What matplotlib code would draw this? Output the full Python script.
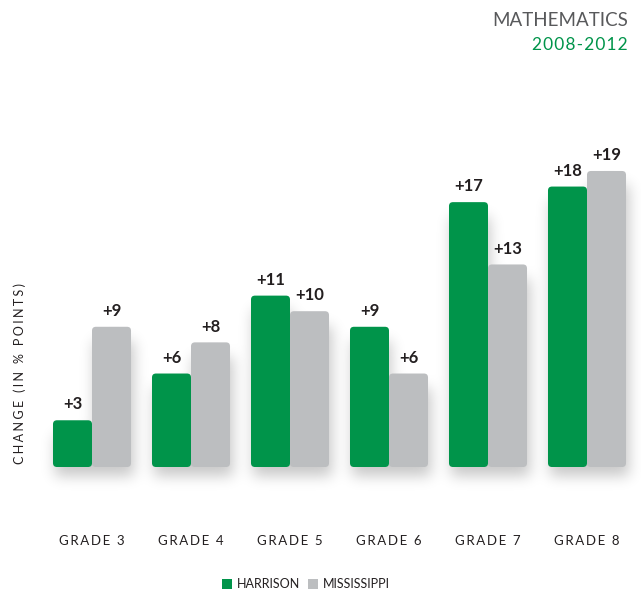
import matplotlib
matplotlib.use("Agg")
import matplotlib.pyplot as plt
from matplotlib.patches import FancyBboxPatch, Rectangle
import numpy as np

plt.rcParams["font.family"] = ["Lato", "DejaVu Sans"]

# ── Data ──────────────────────────────────────────────────────────────────────
grades = ["GRADE 3", "GRADE 4", "GRADE 5", "GRADE 6", "GRADE 7", "GRADE 8"]
harrison = [3, 6, 11, 9, 17, 18]
mississippi = [9, 8, 10, 6, 13, 19]
legend_labels = ["HARRISON", "MISSISSIPPI"]

GREEN = "#00944a"
GRAY = "#bcbec0"
INK = "#231f20"
W = 0.394
ASPECT = 99 / 15.58   # y-units per x-unit for circular corners


def spaced(s, sep="\u2009"):
    return sep.join(s)


def blur(a, sigma):
    r = int(3 * sigma)
    k = np.exp(-0.5 * (np.arange(-r, r + 1) / sigma) ** 2)
    k /= k.sum()
    a = np.apply_along_axis(lambda v: np.convolve(v, k, mode="same"), 0, a)
    a = np.apply_along_axis(lambda v: np.convolve(v, k, mode="same"), 1, a)
    return a


fig = plt.figure(figsize=(6.41, 5.95), dpi=100)
ax = fig.add_axes([0, 0, 1, 1])
xlim = (-92 / 99, (641 - 92) / 99)
ylim = (-128 / 15.58, 467 / 15.58)
ax.set_xlim(*xlim)
ax.set_ylim(*ylim)
ax.axis("off")

x = np.arange(len(grades))
series = [(-W, harrison, GREEN), (0, mississippi, GRAY)]

# soft drop shadow built from the bar rectangles
H, Wpx = 595, 641
mask = np.zeros((H, Wpx))
for i in x:
    for off, vals, _ in series:
        (px0, py0), (px1, py1) = ax.transData.transform(
            [(i + off, 0), (i + off + W, vals[i])])
        dx, dy = 3, 9
        r0, r1 = int(H - py1 + dy + 6), int(H - py0 + dy)
        mask[max(r0, 0):min(r1, H), int(px0 + dx):int(px1 + dx)] = 1
shadow = blur(mask, 7) * 0.22
rgba = np.zeros((H, Wpx, 4))
rgba[..., 3] = shadow
ax.imshow(rgba, extent=(*xlim, *ylim), aspect="auto", origin="upper",
          zorder=1, interpolation="bilinear")

for i in x:
    for off, vals, col in series:
        v = vals[i]
        ax.add_patch(FancyBboxPatch((i + off, 0), W, v,
                                    boxstyle="round,pad=0,rounding_size=0.04",
                                    mutation_aspect=ASPECT,
                                    fc=col, ec="none", zorder=3))
        ax.text(i + off + W / 2, v + 0.5, f"+{v}", ha="center", va="bottom",
                fontsize=12, fontweight="bold", color=INK, zorder=4)
    ax.text(i, -4.75, spaced(grades[i]), ha="center", va="center",
            fontsize=9.5, color=INK)

# y label
fig.text(20 / 641, 1 - 374 / 595, spaced("CHANGE (IN % POINTS)", "\u2009\u200a"),
         rotation=90, ha="center", va="center", fontsize=9, color=INK)

# titles
fig.text(628 / 641, 1 - 20 / 595, "MATHEMATICS", ha="right", va="center",
         fontsize=13.5, color="#58595b")
fig.text(628 / 641, 1 - 45 / 595, spaced("2008-2012", "\u200a"), ha="right",
         va="center", fontsize=12.5, color=GREEN)

# legend: square + label, laid out left to right in pixels
renderer = fig.canvas.get_renderer()
cur = 222
for lab, col in zip(legend_labels, [GREEN, GRAY]):
    fig.patches.append(Rectangle((cur / 641, 1 - 589 / 595), 10 / 641, 10 / 595,
                                 transform=fig.transFigure, fc=col, ec="none"))
    t = fig.text((cur + 15) / 641, 1 - 584 / 595, lab,
                 ha="left", va="center", fontsize=9, color=INK)
    cur = t.get_window_extent(renderer).x1 + 8

fig.savefig("out.png", dpi=100)
